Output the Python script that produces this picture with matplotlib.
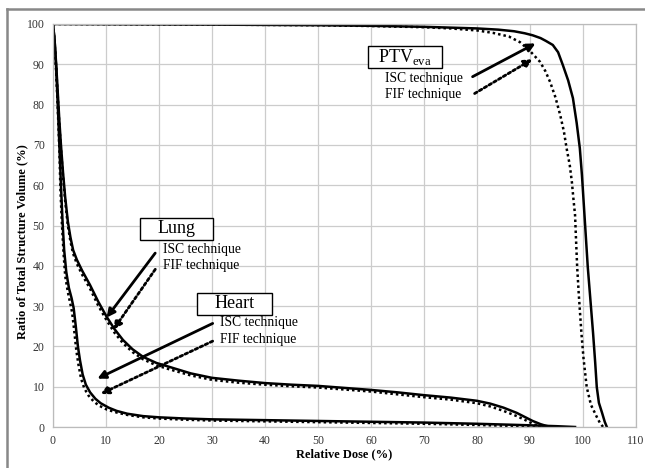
import matplotlib.pyplot as plt
from matplotlib.lines import Line2D
from matplotlib.patches import Rectangle

plt.rcParams['font.family'] = ['Liberation Serif', 'DejaVu Serif']
plt.rcParams['mathtext.fontset'] = 'custom'
plt.rcParams['mathtext.rm'] = 'Liberation Serif'

# PTV_eva
ptv_isc_dose = [0, 10, 30, 50, 60, 70, 75, 80, 84, 87, 89, 90.5, 92, 93, 94.3, 95.3,
                96.2, 97.2, 98.1, 98.8, 99.4, 99.8, 100.1, 100.5, 100.9, 101.4, 101.9,
                102.3, 102.6, 103, 103.6, 104.1, 104.5]
ptv_isc_vol = [100, 99.95, 99.85, 99.7, 99.55, 99.3, 99.1, 98.9, 98.6, 98.2, 97.7,
               97.2, 96.5, 95.8, 94.8, 93, 89.8, 86, 81.6, 75.5, 69.2, 62.5, 56.3, 48,
               39.7, 31.5, 23.3, 16, 9.9, 6, 3.5, 1.3, 0]
ptv_fif_dose = [0, 30, 50, 60, 70, 75, 80, 83, 86, 88.1, 90, 91.9, 92.9, 93.8, 94.8,
                95.7, 96.4, 96.9, 97.5, 97.9, 98.2, 98.5, 98.7, 98.9, 99.2, 99.7, 100.1,
                100.7, 101.5, 102.6, 103.2, 103.8]
ptv_fif_vol = [100, 99.85, 99.7, 99.5, 99.2, 98.9, 98.4, 97.8, 96.9, 95.5, 93.3, 90.6,
               88.3, 85.6, 81.8, 77.4, 73.3, 69.2, 65, 60.8, 56.5, 52.6, 46, 39.7, 33,
               23.3, 17, 9.9, 5.5, 2.5, 1, 0]

# Lung
lung_isc_dose = [0, 0.3, 0.6, 0.9, 1.2, 1.5, 1.9, 2.3, 2.8, 3.3, 3.8, 4.5, 5.5, 7,
                 8.5, 10.1, 11.6, 13.2, 15, 17, 19.5, 22, 26, 30, 35, 40, 45, 50, 55,
                 60, 65, 70, 75, 80, 82.5, 85, 87.5, 89, 90.5, 92, 93, 94]
lung_isc_vol = [100, 96, 90, 83, 76, 70, 63, 57, 51, 47, 43.9, 41.5, 38.8, 35.2, 31.2,
                27.4, 24.3, 21.6, 19.3, 17.4, 15.9, 14.9, 13.3, 12.2, 11.5, 10.9, 10.5,
                10.2, 9.7, 9.2, 8.6, 7.9, 7.3, 6.5, 5.8, 4.8, 3.5, 2.5, 1.5, 0.7, 0.3, 0]
lung_fif_dose = [0, 0.3, 0.6, 0.9, 1.2, 1.5, 1.9, 2.3, 2.8, 3.3, 3.8, 4.5, 5.5, 7,
                 8.5, 10.1, 11.6, 13.2, 15, 17, 19.5, 22, 26, 30, 35, 40, 45, 50, 55,
                 60, 65, 70, 75, 80, 82.5, 85, 87.5, 89, 90.5, 92]
lung_fif_vol = [100, 95, 89, 82, 75, 69, 62, 56, 50, 46, 43, 40.5, 37.8, 34.3, 30.2,
                26.5, 23.4, 20.8, 18.6, 16.8, 15.3, 14.3, 12.8, 11.7, 11.0, 10.5, 10.1,
                9.8, 9.3, 8.8, 8.1, 7.4, 6.8, 5.9, 5.1, 4.0, 2.7, 1.8, 0.8, 0]

# Heart
heart_isc_dose = [0, 0.3, 0.6, 0.9, 1.2, 1.5, 1.8, 2.1, 2.5, 3.0, 3.5, 3.9, 4.3, 4.7,
                  5.1, 5.6, 6.2, 7, 8, 9, 10.5, 12, 14, 17, 20, 25, 30, 40, 50, 60,
                  70, 80, 88, 95, 98.5]
heart_isc_vol = [100, 96, 89, 80, 70, 60, 51, 44, 38.5, 34.5, 32, 29.5, 25, 20, 16.5,
                 13, 10.5, 8.6, 7, 5.9, 4.8, 4, 3.3, 2.7, 2.4, 2.1, 1.9, 1.7, 1.5, 1.3,
                 1.1, 0.8, 0.5, 0.2, 0]
heart_fif_dose = [0, 0.3, 0.6, 0.9, 1.2, 1.4, 1.7, 2.0, 2.3, 2.8, 3.2, 3.6, 4.0, 4.4,
                  4.8, 5.3, 5.9, 6.7, 7.7, 8.7, 10.2, 12, 14, 17, 20, 25, 30, 40, 50,
                  60, 70, 80, 88, 92]
heart_fif_vol = [100, 95, 88, 79, 69, 59, 50, 43, 37.5, 33.5, 31, 28.5, 24, 19, 15.5,
                 12, 9.6, 7.8, 6.3, 5.3, 4.3, 3.6, 3.0, 2.4, 2.1, 1.8, 1.6, 1.4, 1.2,
                 1.0, 0.8, 0.5, 0.2, 0]

x_ticks = list(range(0, 111, 10))
y_ticks = list(range(0, 101, 10))

fig = plt.figure(figsize=(6.45, 4.68), dpi=100)
ax = fig.add_axes([53 / 645, 1 - 427 / 468, (636 - 53) / 645, (427 - 24) / 468])

dot = (0, (1, 1.2))
ax.plot(ptv_isc_dose, ptv_isc_vol, color='black', lw=1.8)
ax.plot(ptv_fif_dose, ptv_fif_vol, color='black', lw=1.8, linestyle=dot)
ax.plot(lung_isc_dose, lung_isc_vol, color='black', lw=1.8)
ax.plot(lung_fif_dose, lung_fif_vol, color='black', lw=1.8, linestyle=dot)
ax.plot(heart_isc_dose, heart_isc_vol, color='black', lw=1.8)
ax.plot(heart_fif_dose, heart_fif_vol, color='black', lw=1.8, linestyle=dot)

ax.set_xlim(0, 110)
ax.set_ylim(0, 100)
ax.set_xticks(x_ticks)
ax.set_yticks(y_ticks)
ax.tick_params(length=0, labelsize=8.5, colors='#333333', pad=6)
ax.grid(True, color='#cccccc', lw=0.9)
ax.set_axisbelow(True)
for s in ax.spines.values():
    s.set_color('#bbbbbb')
    s.set_linewidth(0.9)

ax.set_xlabel('Relative Dose (%)', fontsize=9, fontweight='bold', labelpad=1)
ax.set_ylabel('Ratio of Total Structure Volume (%)', fontsize=9, fontweight='bold')
ax.yaxis.set_label_coords(-0.043, 0.46)

lab = dict(fontsize=9.8, va='center', ha='left')
solid_arrow = dict(arrowstyle='-|>', color='black', lw=2, mutation_scale=12)
dot_arrow = dict(arrowstyle='-|>', color='black', lw=2, linestyle=(0, (1, 1)),
                 mutation_scale=12)


def label_box(x0, x1, y0, y1, text):
    ax.add_patch(Rectangle((x0, y0), x1 - x0, y1 - y0, facecolor='white',
                           edgecolor='black', lw=1.0, zorder=4))
    ax.text((x0 + x1) / 2, (y0 + y1) / 2, text, fontsize=13, ha='center',
            va='center', zorder=5)


# PTV labels and arrows
label_box(59.4, 73.4, 89.1, 94.5, r'PTV$_{\mathrm{eva}}$')
ax.text(62.6, 86.6, 'ISC technique', **lab)
ax.text(62.6, 82.4, 'FIF technique', **lab)
ax.annotate('', xy=(91.5, 95.5), xytext=(78.7, 86.6), arrowprops=solid_arrow)
ax.annotate('', xy=(90.9, 91.6), xytext=(79.1, 82.4), arrowprops=dot_arrow)

# Lung labels and arrows
label_box(16.4, 30.2, 46.4, 51.9, 'Lung')
ax.text(20.8, 44.0, 'ISC technique', **lab)
ax.text(20.8, 40.0, 'FIF technique', **lab)
ax.annotate('', xy=(9.8, 26.6), xytext=(19.6, 43.7), arrowprops=solid_arrow)
ax.annotate('', xy=(11.1, 23.6), xytext=(19.6, 39.7), arrowprops=dot_arrow)

# Heart labels and arrows
label_box(27.2, 41.3, 27.8, 33.3, 'Heart')
ax.text(31.5, 26.0, 'ISC technique', **lab)
ax.text(31.5, 21.6, 'FIF technique', **lab)
ax.annotate('', xy=(7.9, 11.7), xytext=(30.6, 26.0), arrowprops=solid_arrow)
ax.annotate('', xy=(8.5, 7.9), xytext=(30.6, 21.6), arrowprops=dot_arrow)

# chart area frame (cropped on right and bottom)
fx = 7 / 645
fy = 1 - 9 / 468
fig.add_artist(Line2D([fx, fx], [0, fy], color='#888888', lw=1.8, transform=fig.transFigure))
fig.add_artist(Line2D([fx, 1], [fy, fy], color='#888888', lw=1.8, transform=fig.transFigure))

fig.savefig('out.png', dpi=100, facecolor='white')
